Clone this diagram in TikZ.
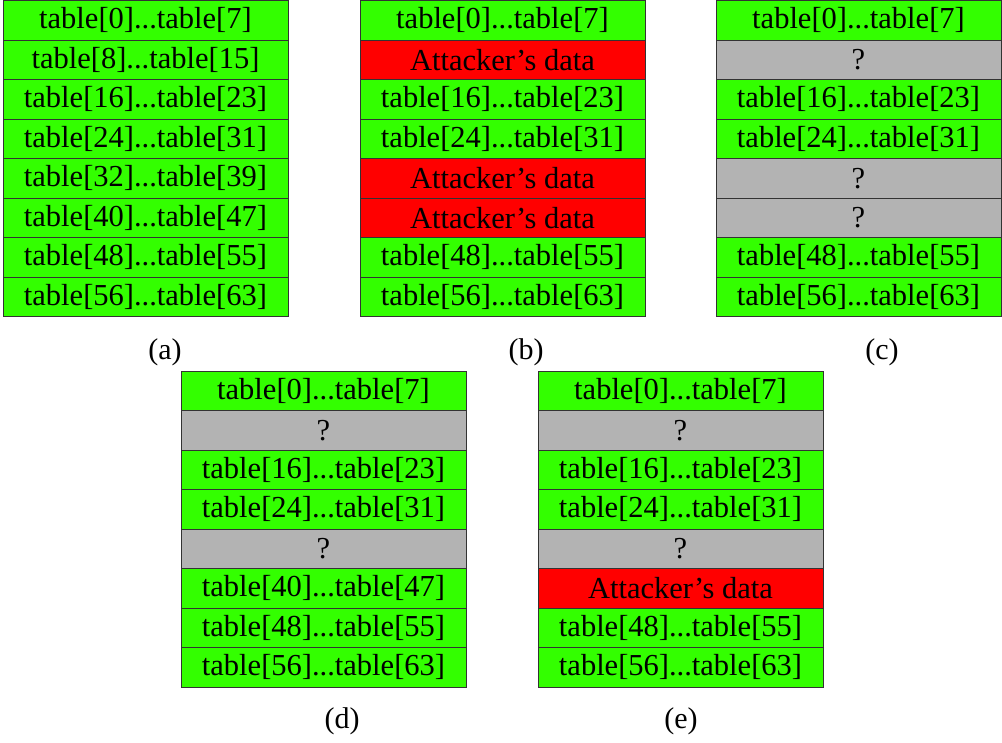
\documentclass[tikz,border=0pt]{standalone}
\usepackage{fontspec}
\setmainfont{Liberation Serif}
\usetikzlibrary{positioning}
\definecolor{cellgreen}{RGB}{51,255,0}
\definecolor{cellgray}{RGB}{179,179,179}
\definecolor{cellred}{RGB}{255,0,0}
\begin{document}
\begin{tikzpicture}[x=1pt,y=-1pt,
  cell/.style={draw=black!80, line width=0.8pt, outer sep=0pt, minimum width=285pt, minimum height=39.5pt, inner sep=0pt, font=\fontsize{30.5}{32}\selectfont},
  g/.style={cell, fill=cellgreen},
  r/.style={cell, fill=cellred},
  q/.style={cell, fill=cellgray},
  lab/.style={font=\fontsize{30}{32}\selectfont}]
\useasboundingbox (0,0) rectangle (1002,743);
% (a)
\node[g, anchor=north west] (a1) at (3,0.5) {table[0]...table[7]};
\node[g, below=0pt of a1] (a2) {table[8]...table[15]};
\node[g, below=0pt of a2] (a3) {table[16]...table[23]};
\node[g, below=0pt of a3] (a4) {table[24]...table[31]};
\node[g, below=0pt of a4] (a5) {table[32]...table[39]};
\node[g, below=0pt of a5] (a6) {table[40]...table[47]};
\node[g, below=0pt of a6] (a7) {table[48]...table[55]};
\node[g, below=0pt of a7] (a8) {table[56]...table[63]};
\node[lab] (la) at (165,352) {(a)};
% (b)
\node[g, anchor=north west] (b1) at (360,0.5) {table[0]...table[7]};
\node[r, below=0pt of b1] (b2) {Attacker’s data};
\node[g, below=0pt of b2] (b3) {table[16]...table[23]};
\node[g, below=0pt of b3] (b4) {table[24]...table[31]};
\node[r, below=0pt of b4] (b5) {Attacker’s data};
\node[r, below=0pt of b5] (b6) {Attacker’s data};
\node[g, below=0pt of b6] (b7) {table[48]...table[55]};
\node[g, below=0pt of b7] (b8) {table[56]...table[63]};
\node[lab] (lb) at (526,352) {(b)};
% (c)
\node[g, anchor=north west] (c1) at (716,0.5) {table[0]...table[7]};
\node[q, below=0pt of c1] (c2) {?};
\node[g, below=0pt of c2] (c3) {table[16]...table[23]};
\node[g, below=0pt of c3] (c4) {table[24]...table[31]};
\node[q, below=0pt of c4] (c5) {?};
\node[q, below=0pt of c5] (c6) {?};
\node[g, below=0pt of c6] (c7) {table[48]...table[55]};
\node[g, below=0pt of c7] (c8) {table[56]...table[63]};
\node[lab] (lc) at (882,352) {(c)};
% (d)
\node[g, anchor=north west] (d1) at (181,371) {table[0]...table[7]};
\node[q, below=0pt of d1] (d2) {?};
\node[g, below=0pt of d2] (d3) {table[16]...table[23]};
\node[g, below=0pt of d3] (d4) {table[24]...table[31]};
\node[q, below=0pt of d4] (d5) {?};
\node[g, below=0pt of d5] (d6) {table[40]...table[47]};
\node[g, below=0pt of d6] (d7) {table[48]...table[55]};
\node[g, below=0pt of d7] (d8) {table[56]...table[63]};
\node[lab] (ld) at (342,721) {(d)};
% (e)
\node[g, anchor=north west] (e1) at (538,371) {table[0]...table[7]};
\node[q, below=0pt of e1] (e2) {?};
\node[g, below=0pt of e2] (e3) {table[16]...table[23]};
\node[g, below=0pt of e3] (e4) {table[24]...table[31]};
\node[q, below=0pt of e4] (e5) {?};
\node[r, below=0pt of e5] (e6) {Attacker’s data};
\node[g, below=0pt of e6] (e7) {table[48]...table[55]};
\node[g, below=0pt of e7] (e8) {table[56]...table[63]};
\node[lab] (le) at (681,721) {(e)};
\end{tikzpicture}
\end{document}
